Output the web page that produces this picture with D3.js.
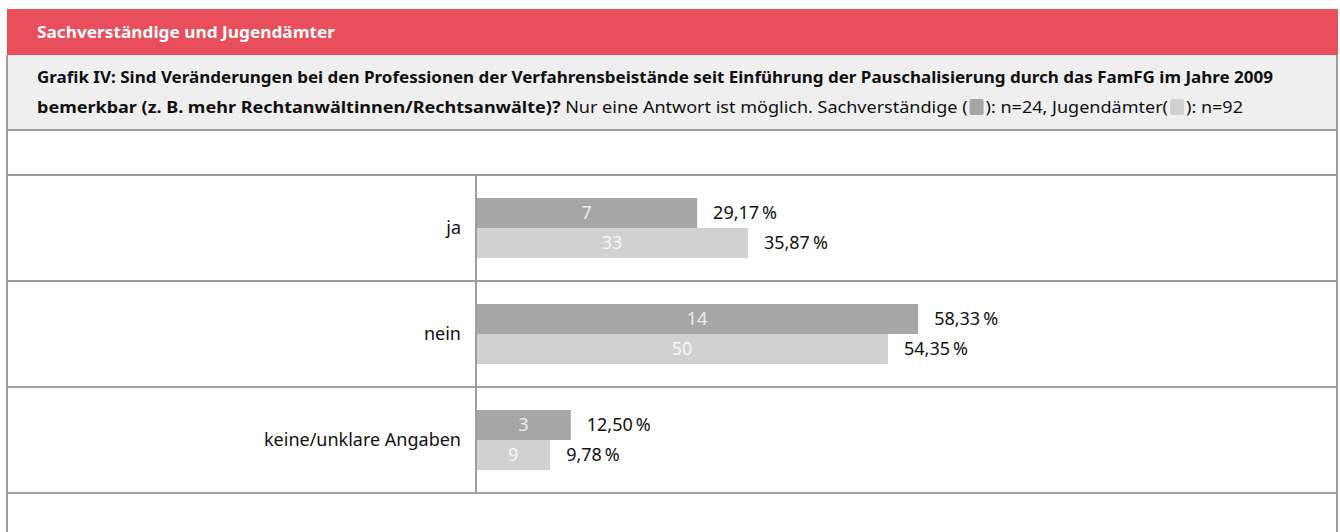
<!DOCTYPE html>
<html><head><meta charset="utf-8">
<script src="https://cdn.jsdelivr.net/npm/d3@7"></script>
<style>
html,body{margin:0;padding:0;background:#fff;}
svg{display:block;font-family:"Noto Sans",Roboto,sans-serif;}
</style></head>
<body>
<svg id="c" width="1340" height="532"></svg>
<script>
const headerTitle = "Sachverständige und Jugendämter";
const titleLine1 = "Grafik IV: Sind Veränderungen bei den Professionen der Verfahrensbeistände seit Einführung der Pauschalisierung durch das FamFG im Jahre 2009";
const titleLine2Bold = "bemerkbar (z. B. mehr Rechtanwältinnen/Rechtsanwälte)?";
const titleLine2Rest = [" Nur eine Antwort ist möglich. Sachverständige (", "): n=24, Jugendämter(", "): n=92"];
const categories = ["ja", "nein", "keine/unklare Angaben"];
const seriesNames = ["Sachverständige", "Jugendämter"];
const countsSachverstaendige = [7, 14, 3];
const countsJugendaemter = [33, 50, 9];
const pctSachverstaendige = [29.17, 58.33, 12.50];
const pctJugendaemter = [35.87, 54.35, 9.78];
const seriesColors = ["#a6a6a6", "#d0d1d0"];

const svg = d3.select("#c");
const L = 7, R = 1338, lineCol = "#9e9e9e";

function fit(sel, w) {
  sel.attr("textLength", w).attr("lengthAdjust", "spacingAndGlyphs");
}

// header
svg.append("rect").attr("x", L).attr("y", 9).attr("width", R - L).attr("height", 46).attr("fill", "#e84e5b");
const ht = svg.append("text").attr("x", 37).attr("y", 38).attr("fill", "#fff")
  .attr("font-weight", "bold").attr("font-size", 16.5).text(headerTitle);
fit(ht, 298);

// title box
svg.append("rect").attr("x", L).attr("y", 55).attr("width", R - L).attr("height", 75).attr("fill", "#efefef");
const t1 = svg.append("text").attr("x", 37).attr("y", 83).attr("fill", "#111")
  .attr("font-weight", "bold").attr("font-size", 16.5).text(titleLine1);
fit(t1, 1236);

// line 2 with inline legend squares
(function () {
  const y = 113, x0 = 37, target = 1243 - 37, sq = 14, sqGap = 2;
  const pieces = [
    {t: titleLine2Bold, b: true},
    {t: titleLine2Rest[0], b: false},
    {sq: 0},
    {t: titleLine2Rest[1], b: false},
    {sq: 1},
    {t: titleLine2Rest[2], b: false}
  ];
  const g = svg.append("g");
  let total = 0;
  pieces.forEach(p => {
    if (p.t !== undefined) {
      p.el = g.append("text").attr("y", y).attr("fill", "#111").attr("font-size", 16.5)
        .attr("font-weight", p.b ? "bold" : "normal").attr("xml:space", "preserve")
        .style("white-space", "pre").text(p.t);
      p.w = p.el.node().getComputedTextLength();
    } else {
      p.w = sq + 2 * sqGap;
    }
    total += p.w;
  });
  const textTotal = d3.sum(pieces.filter(p => p.t !== undefined), p => p.w);
  const f = (target - (total - textTotal)) / textTotal;
  let x = x0;
  pieces.forEach(p => {
    if (p.t !== undefined) {
      const w = p.w * f;
      p.el.attr("x", x).attr("textLength", w).attr("lengthAdjust", "spacingAndGlyphs");
      x += w;
    } else {
      g.append("rect").attr("x", x + sqGap).attr("y", y - 14).attr("width", sq).attr("height", 16)
        .attr("rx", 2).attr("fill", seriesColors[p.sq]);
      x += p.w;
    }
  });
})();

// scales
const x = d3.scaleLinear().domain([0, 100]).range([476, 476 + 758]);
const y = d3.scaleBand().domain(categories).range([175, 493]).padding(0);
const ySub = d3.scaleBand().domain(seriesNames).range([0, 60]).padding(0);

// grid lines
const hLines = [130, 175, 493].concat(categories.slice(1).map(c => y(c)));
svg.append("g").selectAll("line").data(hLines).join("line")
  .attr("x1", L).attr("x2", R).attr("y1", d => d).attr("y2", d => d)
  .attr("stroke", lineCol).attr("stroke-width", 2);
// outer borders
svg.append("line").attr("x1", L).attr("x2", L).attr("y1", 55).attr("y2", 532).attr("stroke", lineCol).attr("stroke-width", 2);
svg.append("line").attr("x1", R - 1).attr("x2", R - 1).attr("y1", 55).attr("y2", 532).attr("stroke", lineCol).attr("stroke-width", 2);

const rows = categories.map((c, i) => ({
  cat: c,
  vals: [
    {s: seriesNames[0], n: countsSachverstaendige[i], p: pctSachverstaendige[i], col: seriesColors[0], tc: "#ececec"},
    {s: seriesNames[1], n: countsJugendaemter[i], p: pctJugendaemter[i], col: seriesColors[1], tc: "#f8f8f8"}
  ]
}));

const fmt = v => v.toFixed(2).replace(".", ",") + "\u2009%";

const rowG = svg.append("g").selectAll("g").data(rows).join("g")
  .attr("transform", d => `translate(0,${y(d.cat) + y.bandwidth() / 2 - 30})`);

rowG.append("text").attr("x", 461).attr("y", 30).attr("dy", "0.35em").attr("text-anchor", "end")
  .attr("font-size", 18).attr("fill", "#111").text(d => d.cat);

const bars = rowG.selectAll("g.b").data(d => d.vals).join("g").attr("class", "b");
bars.append("rect").attr("x", x(0)).attr("y", d => ySub(d.s))
  .attr("width", d => x(d.p) - x(0)).attr("height", ySub.bandwidth()).attr("fill", d => d.col);
bars.append("text").attr("x", d => (x(0) + x(d.p)) / 2).attr("y", d => ySub(d.s) + ySub.bandwidth() / 2)
  .attr("dy", "0.35em").attr("text-anchor", "middle").attr("font-size", 18).attr("fill", d => d.tc)
  .text(d => d.n);
bars.append("text").attr("x", d => x(d.p) + 16).attr("y", d => ySub(d.s) + ySub.bandwidth() / 2)
  .attr("dy", "0.35em").attr("font-size", 18).attr("fill", "#111").text(d => fmt(d.p));

// vertical axis line
svg.append("line").attr("x1", x(0)).attr("x2", x(0)).attr("y1", 175).attr("y2", 493)
  .attr("stroke", lineCol).attr("stroke-width", 2);
</script>
</body></html>
